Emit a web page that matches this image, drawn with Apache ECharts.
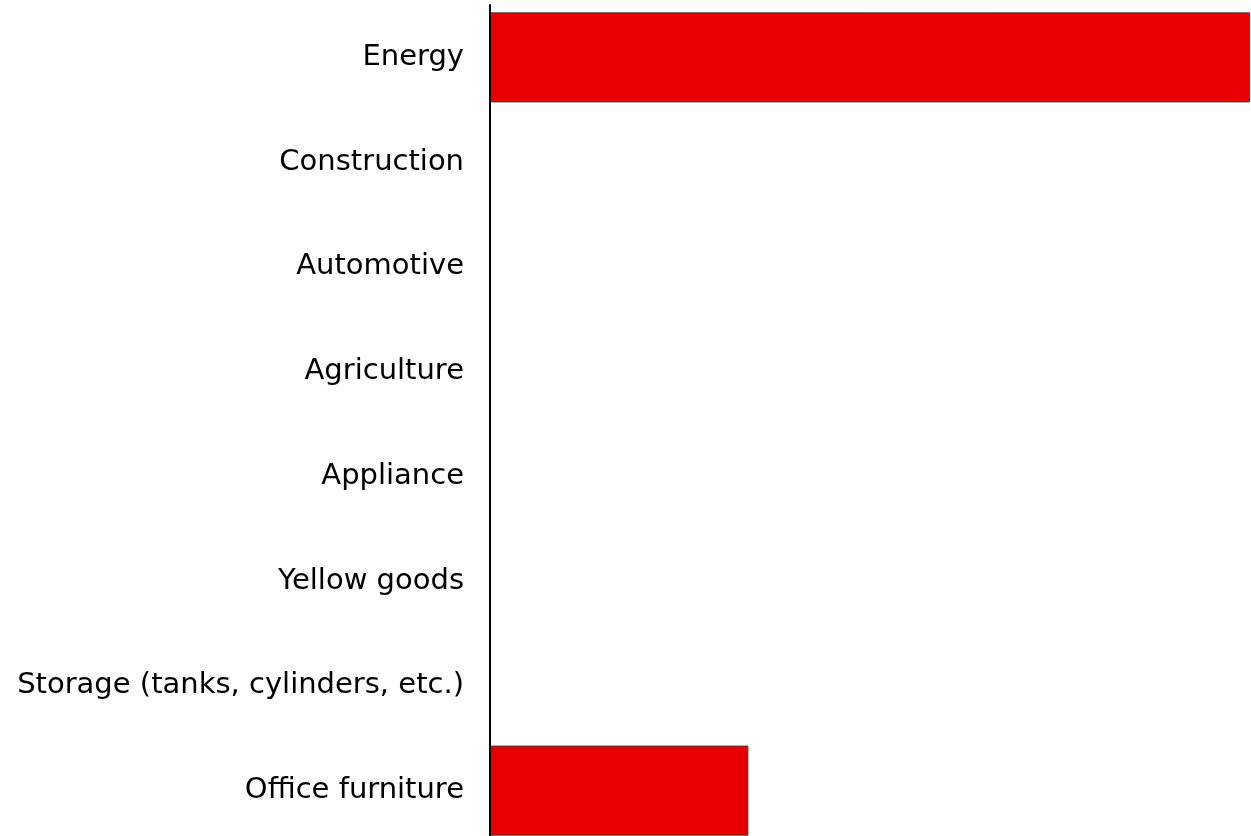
<!DOCTYPE html>
<html>
<head>
<meta charset="utf-8">
<script src="https://cdn.jsdelivr.net/npm/echarts@6/dist/echarts.min.js"></script>
<style>html,body{margin:0;padding:0;background:#fff;overflow:hidden;}#chart{width:1251px;height:860px;}</style>
</head>
<body>
<div id="chart"></div>
<script>
const categories = ["Energy", "Construction", "Automotive", "Agriculture", "Appliance", "Yellow goods", "Storage (tanks, cylinders, etc.)", "Office furniture"];
const values = [100, 0, 0, 0, 0, 0, 0, 34];

const chart = echarts.init(document.getElementById('chart'));
chart.setOption({
  animation: false,
  grid: { left: 490, right: 1, top: 5, height: 838, containLabel: false },
  xAxis: {
    type: 'value', min: 0, max: 100,
    show: false
  },
  yAxis: {
    type: 'category', data: categories, inverse: true,
    axisLine: { show: true, lineStyle: { color: '#000', width: 2 } },
    axisTick: { show: false },
    axisLabel: { fontFamily: 'DejaVu Sans', fontSize: 29, color: '#000', margin: 26 },
    z: 10
  },
  series: [{
    type: 'bar', data: values, barCategoryGap: '14%',
    itemStyle: { color: '#E60000', borderColor: '#404040', borderWidth: 1 }
  }]
});
</script>
</body>
</html>
